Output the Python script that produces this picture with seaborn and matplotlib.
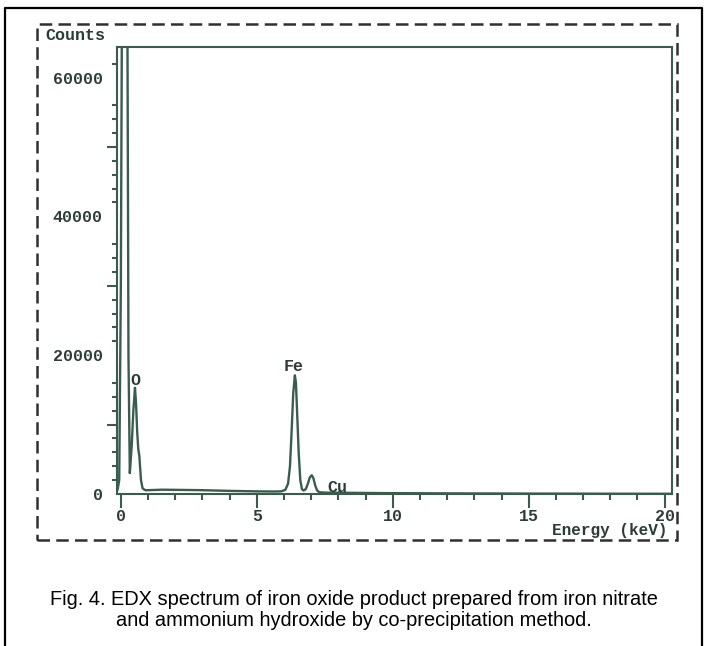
import numpy as np
import pandas as pd
import matplotlib
matplotlib.use("Agg")
import matplotlib.pyplot as plt
from matplotlib.patches import Rectangle
from matplotlib.lines import Line2D
import seaborn as sns

# ---- data ----
energy_kev = [-0.12, -0.06, 0.0, 0.04, 0.10, 0.18, 0.24, 0.28, 0.33, 0.40, 0.46, 0.52,
              0.56, 0.60, 0.64, 0.68, 0.74, 0.80, 0.90, 1.0, 1.5, 2.0, 3.0, 4.0, 5.0,
              5.6, 5.9, 6.05, 6.15, 6.22, 6.28, 6.34, 6.40, 6.44, 6.48, 6.54, 6.60,
              6.66, 6.72, 6.80, 6.88, 6.95, 7.02, 7.08, 7.15, 7.22, 7.30, 7.5, 8.0,
              8.05, 8.1, 9.0, 10.0, 12.0, 15.0, 18.0, 20.3]
counts = [600, 2000, 30000, 70000, 100000, 100000, 70000, 20000, 3000, 7000, 12000, 15300,
          13000, 9000, 6500, 5500, 2000, 800, 550, 550, 620, 600, 550, 450, 380,
          360, 380, 600, 1500, 4000, 9000, 14500, 17100, 16000, 12000, 6000, 2000,
          700, 500, 700, 1500, 2400, 2700, 2300, 1200, 500, 250, 200, 180,
          300, 180, 150, 120, 90, 60, 40, 30]

peak_labels = ["O", "Fe", "Cu"]
peak_label_x = [0.52, 6.36, 7.98]
peak_label_y = [16300, 18300, 1000]

y_ticks = [0, 20000, 40000, 60000]
y_ticklabels = ["0", "20000", "40000", "60000"]
x_ticks = [0, 5, 10, 15, 20]
x_ticklabels = ["0", "5", "10", "15", "20"]

caption = ("Fig. 4. EDX spectrum of iron oxide product prepared from iron nitrate\n"
           "and ammonium hydroxide by co-precipitation method.")

df = pd.DataFrame({"Energy": energy_kev, "Counts": counts})

# ---- style ----
sns.set_style("ticks")
line_col = "#3a5c4e"
text_col = "#2c3d35"
mono = ["Liberation Mono", "DejaVu Sans Mono"]
fs = 12

W, H = 704, 646
fig = plt.figure(figsize=(W / 100, H / 100), dpi=100)

def fx(px):
    return px / W

def fy(py):
    return 1 - py / H

ax = fig.add_axes([fx(116.5), fy(494), (672 - 116.5) / W, (494 - 47) / H])
sns.lineplot(data=df, x="Energy", y="Counts", ax=ax, color=line_col, lw=1.7,
             estimator=None, sort=False)
ax.set_xlim(-0.16, 20.27)
ax.set_ylim(0, 64400)
ax.set_xlabel("")
ax.set_ylabel("")
for s in ax.spines.values():
    s.set_color(line_col)
    s.set_linewidth(1.5)
    s.set_visible(True)

# x ticks
ax.set_xticks(x_ticks)
ax.set_xticklabels(x_ticklabels)
ax.set_xticks(list(range(0, 21)), minor=True)
ax.tick_params(axis="x", which="major", direction="out", length=10, width=1.5,
               color=line_col, pad=0.5, labelcolor=text_col, bottom=True, top=False)
ax.tick_params(axis="x", which="minor", direction="out", length=4, width=1.5,
               color=line_col, bottom=True, top=False)

# y ticks: labels without tick marks, minor ticks every 2000, long ones at odd 10000s
long_y = [10000, 30000, 50000]
skip_y = {0, 18000, 20000, 38000, 40000, 58000, 60000, 64000}
minor_y = [v for v in range(2000, 64001, 2000) if v not in skip_y and v not in long_y]
ax.set_yticks(y_ticks + long_y)
ax.set_yticklabels(y_ticklabels + ["", "", ""])
ax.set_yticks(minor_y, minor=True)
ax.tick_params(axis="y", which="major", direction="out", length=7, width=1.5,
               color=line_col, pad=3, labelcolor=text_col, left=True, right=False)
ax.tick_params(axis="y", which="minor", direction="out", length=3.5, width=1.5,
               color=line_col, left=True, right=False)
for t, v in zip(ax.yaxis.get_major_ticks(), y_ticks + long_y):
    if v in y_ticks:
        t.tick1line.set_markersize(0)

for lab in ax.get_xticklabels() + ax.get_yticklabels():
    lab.set_fontfamily(mono)
    lab.set_fontweight("bold")
    lab.set_fontsize(fs)

for lab, xv, yv in zip(peak_labels, peak_label_x, peak_label_y):
    ax.text(xv, yv, lab, ha="center", va="center", fontsize=fs,
            fontweight="bold", family=mono, color=text_col)

# axis titles
fig.text(fx(45), fy(35), "Counts", ha="left", va="center", fontsize=fs,
         fontweight="bold", family=mono, color=text_col)
fig.text(fx(668), fy(530), "Energy (keV)", ha="right", va="center", fontsize=11.5,
         fontweight="bold", family=mono, color=text_col)

# dashed frame
fig.add_artist(Rectangle((fx(37), fy(540)), (677 - 37) / W, (540 - 24) / H,
                         transform=fig.transFigure, fill=False, ec="#303030",
                         lw=1.8, ls=(0, (5, 2.5))))
# outer solid frame (left, top, right)
fig.add_artist(Line2D([fx(5), fx(5), fx(702), fx(702)], [0, fy(8), fy(8), 0],
                      transform=fig.transFigure, color="black", lw=1.6))

# caption
fig.text(0.503, fy(610), caption, ha="center", va="center", fontsize=14.4,
         family=["Liberation Sans", "DejaVu Sans"], color="black", linespacing=1.1)

fig.savefig("out.png", dpi=100)
